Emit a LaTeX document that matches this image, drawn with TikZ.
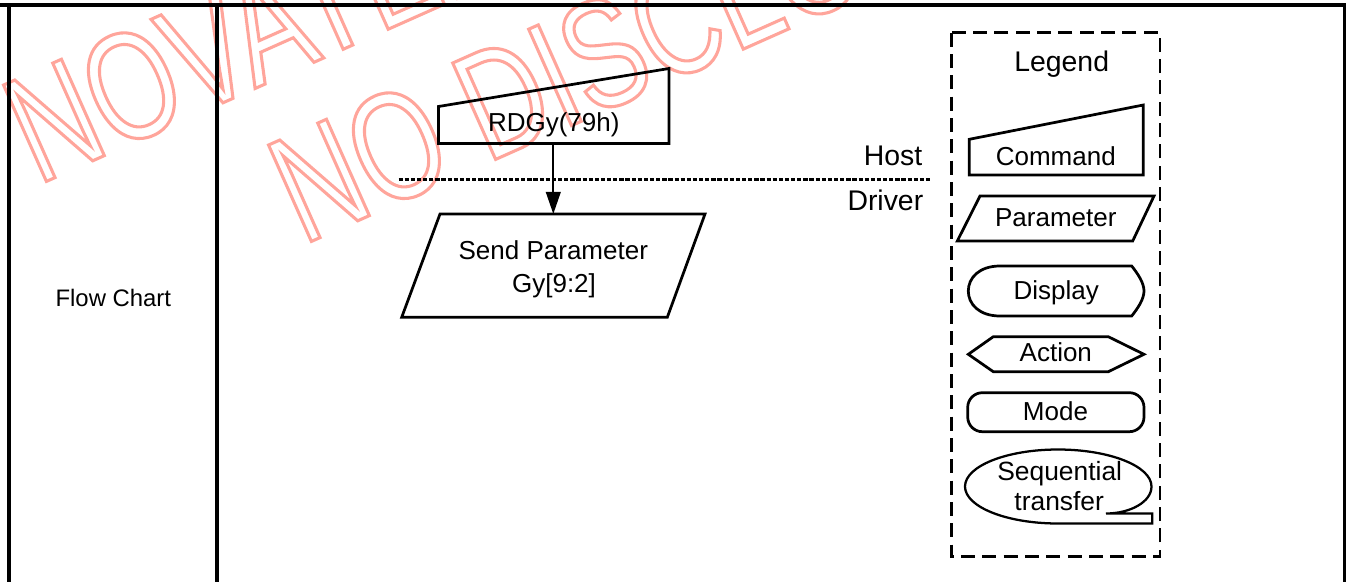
\documentclass[tikz,border=0pt]{standalone}
\usepackage{fontspec}
\setmainfont{Liberation Sans}
\newfontfamily\wmfont[FakeStretch=0.74]{Liberation Sans}
\usetikzlibrary{arrows.meta}
\definecolor{wmred}{RGB}{255,165,155}
\newcommand\outlinetext[1]{\special{pdf:literal direct 1 Tr 2.3 w}#1\special{pdf:literal direct 0 Tr}}
\begin{document}
\begin{tikzpicture}[x=0.75pt,y=-0.75pt,
  shapeline/.style={line width=2.05pt, line join=miter},
  frameline/.style={line width=3pt},
  anchorbox/.style={inner sep=0pt, outer sep=0pt, minimum width=1pt},
  lbl/.style={inner sep=0pt, anchor=base, font=\fontsize{19.5}{23}\selectfont},
  biglbl/.style={inner sep=0pt, font=\fontsize{21.3}{25}\selectfont},
  wm/.style={inner sep=0pt, anchor=base west, rotate=24, text=wmred,
             font=\wmfont\fontsize{115}{115}\selectfont},
  arr/.style={line width=1.35pt, -{Triangle[length=16.5pt,width=11pt]}}]
\useasboundingbox (0,0) rectangle (1346,582);

% watermark
\node[wm] (wm1) at (37.7,185.3) {\outlinetext{NOVATEK}};
\node[wm] (wm2) at (302.7,245.3) {\outlinetext{NO DISCLOSURE}};

% table frame
\draw[frameline] (0,5.3) -- (1346,5.3);
\draw[frameline] (8.7,5.3) -- (8.7,582);
\draw[frameline] (217,5.3) -- (217,582);
\draw[frameline] (1344.7,5.3) -- (1344.7,582);
\node[lbl, font=\fontsize{17.9}{21}\selectfont] (fc) at (113.3,306) {Flow Chart};

% host / driver separator
\coordinate (sepL) at (398.5,179.5);
\coordinate (sepR) at (931.7,179.5);
\draw[line width=2.8pt, dash pattern=on 3.2pt off 1.4pt] (sepL) -- (sepR);
\node[biglbl, anchor=base east] (host) at (922.5,165) {Host};
\node[biglbl, anchor=base east] (driver) at (923.5,210) {Driver};

% command RDGy(79h)
\draw[shapeline] (438.5,106.5) -- (438.5,143.5) -- (669,143.5) -- (669,68.5) -- cycle;
\node[anchorbox, minimum height=27.75pt] (cmd) at (553.3,125) {};
\node[lbl] (cmdtxt) at (553.8,131) {RDGy(79h)};

% parameter Send Parameter
\draw[shapeline] (440,214) -- (705,214) -- (667.3,317.3) -- (401.7,317.3) -- cycle;
\node[anchorbox, minimum height=77.5pt] (par) at (553.3,265.65) {};
\node[lbl] (partxt1) at (553.3,259) {Send Parameter};
\node[lbl] (partxt2) at (554,292) {Gy[9:2]};

\draw[arr] (cmd.south) -- (par.north);

% legend
\draw[line width=2.2pt, dash pattern=on 10.5pt off 5.5pt] (951.7,32.7) rectangle (1160,556.7);
\node[biglbl, anchor=base] (legend) at (1061.7,71.7) {Legend};

\draw[shapeline] (969.3,139.3) -- (969.3,175) -- (1143.3,175) -- (1143.3,105) -- cycle;
\node[lbl] (lcmd) at (1055.8,165) {Command};

\draw[shapeline] (980,196) -- (1154,196) -- (1132.7,241) -- (957.3,241) -- cycle;
\node[lbl] (lpar) at (1055.8,226.7) {Parameter};

\draw[shapeline] (1000,266) -- (1131.7,266)
  .. controls (1138,274) and (1144,283) .. (1144,291)
  .. controls (1144,299) and (1138,308) .. (1131.7,316)
  -- (1000,316)
  .. controls (979,316) and (968.3,304) .. (968.3,291)
  .. controls (968.3,278) and (979,266) .. (1000,266) -- cycle;
\node[lbl] (ldisp) at (1056.2,299.3) {Display};

\draw[shapeline] (968.3,354.3) -- (993.3,336.7) -- (1108.3,336.7) -- (1144,354.3)
  -- (1108.3,371.7) -- (993.3,371.7) -- cycle;
\node[lbl] (lact) at (1055.8,361.7) {Action};

\draw[shapeline, rounded corners=11pt] (967.7,392.7) rectangle (1144,431.7);
\node[lbl] (lmode) at (1055.5,420) {Mode};

\draw[line width=1.7pt, line join=miter] (1058,523.5)
  .. controls (1006.6,523.5) and (965,506.9) .. (965,486.5)
  .. controls (965,466.1) and (1006.6,449.5) .. (1058,449.5)
  .. controls (1109.4,449.5) and (1151.5,466.1) .. (1151.5,486.5)
  .. controls (1151.5,502) and (1130,513.5) .. (1106,513.5)
  -- (1152.3,513.5) -- (1152.3,523.5) -- cycle;
\node[lbl, font=\fontsize{19.8}{23}\selectfont] (lseq1) at (1059.7,480) {Sequential};
\node[lbl, font=\fontsize{19.8}{23}\selectfont] (lseq2) at (1059.2,510) {transfer};
\end{tikzpicture}
\end{document}
